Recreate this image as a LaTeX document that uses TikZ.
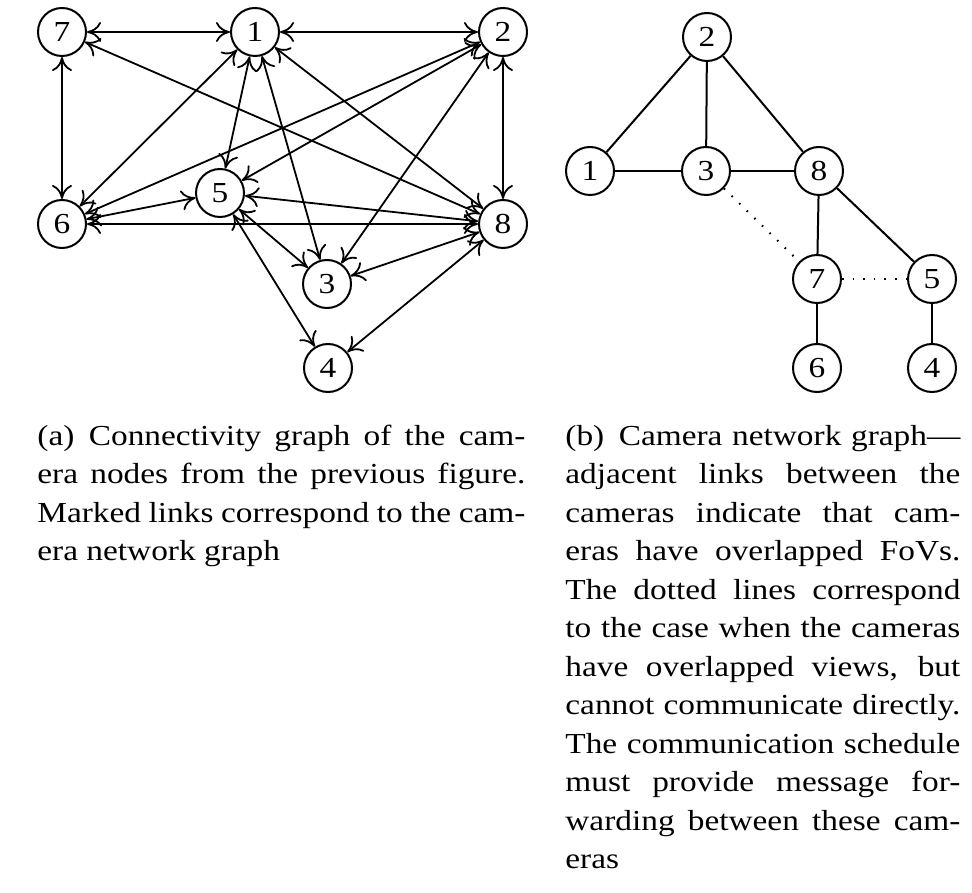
\documentclass[tikz,border=0pt]{standalone}
\usepackage{fontspec}
\setmainfont{Liberation Serif}[FakeStretch=1.15]
\usepackage{tikz}
\usetikzlibrary{arrows.meta}

\begin{document}
\begin{tikzpicture}[
  x=0.5pt, y=-0.5pt,
  cam/.style={draw, circle, line width=1pt, minimum size=24pt, inner sep=0pt,
              font=\fontsize{14.5}{17}\selectfont},
  arr/.style={{To[length=7pt,width=10pt]}-{To[length=7pt,width=10pt]}, line width=0.9pt},
  link/.style={line width=1pt},
  nolink/.style={line width=1pt, dash pattern=on 0.8pt off 4.5pt},
  capt/.style={anchor=base west, inner sep=0pt, align=justify, text width=#1,
               font=\fontsize{14.5}{19.25}\selectfont}
]
  \useasboundingbox (0,0) rectangle (972,892);

  % (a) connectivity graph
  \node[cam] (a7) at (62,32) {7};
  \node[cam] (a1) at (255,32) {1};
  \node[cam] (a2) at (503,32) {2};
  \node[cam] (a6) at (62,224) {6};
  \node[cam] (a5) at (220,193) {5};
  \node[cam] (a8) at (503,224) {8};
  \node[cam] (a3) at (327,284) {3};
  \node[cam] (a4) at (328,368) {4};

  \draw[arr] (a7) -- (a1);
  \draw[arr] (a1) -- (a2);
  \draw[arr] (a7) -- (a6);
  \draw[arr] (a2) -- (a8);
  \draw[arr] (a7) -- (a8);
  \draw[arr] (a1) -- (a5);
  \draw[arr] (a1) -- (a6);
  \draw[arr] (a1) -- (a3);
  \draw[arr] (a1) -- (a8);
  \draw[arr] (a2) -- (a6);
  \draw[arr] (a2) -- (a5);
  \draw[arr] (a2) -- (a3);
  \draw[arr] (a6) -- (a5);
  \draw[arr] (a6) -- (a8);
  \draw[arr] (a5) -- (a8);
  \draw[arr] (a5) -- (a3);
  \draw[arr] (a5) -- (a4);
  \draw[arr] (a3) -- (a8);
  \draw[arr] (a8) -- (a4);

  % (b) camera network graph
  \node[cam] (b2) at (707,37) {2};
  \node[cam] (b1) at (590,171) {1};
  \node[cam] (b3) at (706,171) {3};
  \node[cam] (b8) at (819,171) {8};
  \node[cam] (b7) at (817,279) {7};
  \node[cam] (b5) at (932,279) {5};
  \node[cam] (b6) at (817,368) {6};
  \node[cam] (b4) at (932,368) {4};

  \draw[link] (b2) -- (b1);
  \draw[link] (b2) -- (b3);
  \draw[link] (b2) -- (b8);
  \draw[link] (b1) -- (b3);
  \draw[link] (b3) -- (b8);
  \draw[link] (b8) -- (b7);
  \draw[link] (b8) -- (b5);
  \draw[link] (b7) -- (b6);
  \draw[link] (b5) -- (b4);
  \draw[nolink] (b3) -- (b7);
  \draw[nolink] (b7) -- (b5);

  % captions
  \node[capt=244pt] (capa) at (37,445)
    {(a)\enspace Connectivity graph of the cam-\linebreak
     era nodes from the previous figure.\linebreak
     Marked links correspond to the cam-\linebreak
     era network graph};
  \node[capt=197.5pt] (capb) at (565,445)
    {(b)\enspace Camera network graph—\linebreak
     adjacent links between the\linebreak
     cameras indicate that cam-\linebreak
     eras have overlapped FoVs.\linebreak
     The dotted lines correspond\linebreak
     to the case when the cameras\linebreak
     have overlapped views, but\linebreak
     cannot communicate directly.\linebreak
     The communication schedule\linebreak
     must provide message for-\linebreak
     warding between these cam-\linebreak
     eras};
\end{tikzpicture}
\end{document}
